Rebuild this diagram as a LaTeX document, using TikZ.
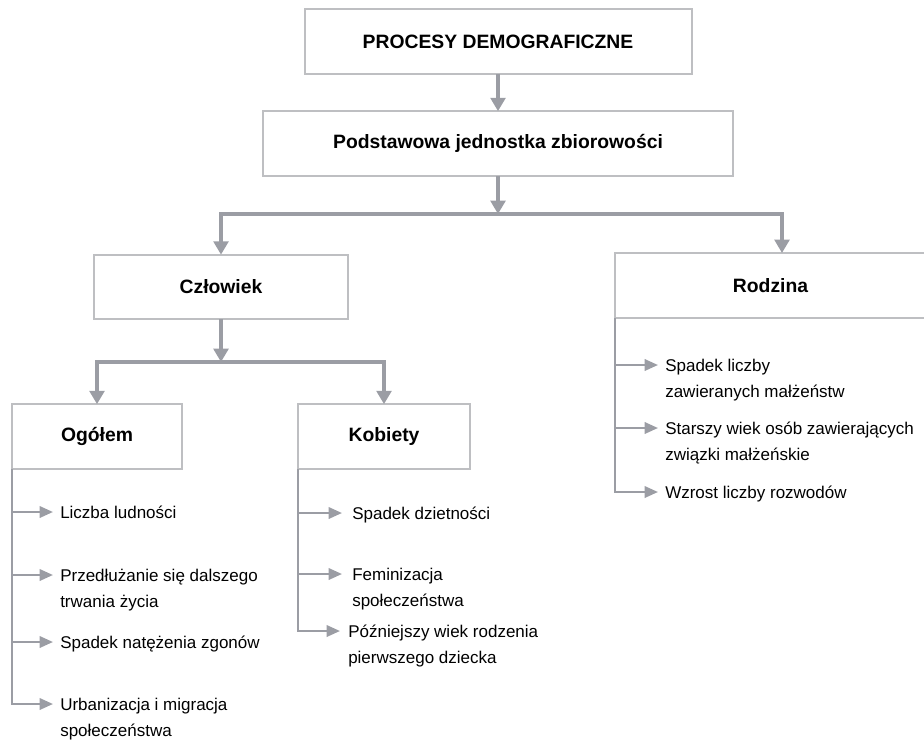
\documentclass[tikz,border=0pt]{standalone}
\usepackage{fontspec}
\setmainfont{Liberation Sans}
\usetikzlibrary{arrows.meta}
\definecolor{linegray}{RGB}{155,157,164}
\definecolor{boxgray}{RGB}{190,191,194}
\begin{document}
\begin{tikzpicture}[x=0.75pt,y=-0.75pt,>={Triangle[length=10pt,width=11pt]},
    box/.style={draw=boxgray,line width=1.5pt,outer sep=0pt,inner sep=0pt,minimum width=#1*0.75pt,minimum height=48.5pt,font=\bfseries\fontsize{14.5}{17}\selectfont},
    item/.style={anchor=north west,inner sep=0pt,align=left,font=\fontsize{12.75}{19.5}\selectfont},
    conn/.style={linegray,line width=2.6pt},
    leaf/.style={linegray,line width=1.8pt,-{Triangle[length=10pt,width=8.5pt]}}]
        \useasboundingbox (0,0) rectangle (924,740);

        \node[box=387] (proc) at (498,41.5) {PROCESY DEMOGRAFICZNE};
        \node[box=470] (podst) at (498,143.5) {Podstawowa jednostka zbiorowości};
        \node[box=254] (czl) at (221,287) {Człowiek};
        \node[box=311] (rodz) at (770.5,285.5) {Rodzina};
        \node[box=170] (ogol) at (97,436.5) {Ogółem};
        \node[box=172] (kob) at (384,436.5) {Kobiety};

        \coordinate (j1) at (498,214);
        \coordinate (rodzin) at (782,253);
        \coordinate (j2) at (221,362);

        \draw[conn,->] (proc) -- (podst);
        \draw[conn,->] (podst) -- (j1);
        \draw[conn,->] (j1) -| (czl.north);
        \draw[conn,->] (j1) -| (rodzin);
        \draw[conn,->] (czl) -- (j2);
        \draw[conn,->] (j2) -| (ogol.north);
        \draw[conn,->] (j2) -| (kob.north);

        \node[item] (o1) at (60,500) {\strut Liczba ludności};
        \node[item] (o2) at (60,563) {\strut Przedłużanie się dalszego\\trwania życia};
        \node[item] (o3) at (60,630) {\strut Spadek natężenia zgonów};
        \node[item] (o4) at (60,692) {\strut Urbanizacja i migracja\\społeczeństwa};
        \foreach \n in {o1,o2,o3,o4}
            \draw[leaf] (ogol.south west) |- ([shift={(-7,12)}]\n.north west);

        \node[item] (k1) at (352,501) {\strut Spadek dzietności};
        \node[item] (k2) at (352,562) {\strut Feminizacja\\społeczeństwa};
        \node[item] (k3) at (348,619) {\strut Późniejszy wiek rodzenia\\pierwszego dziecka};
        \draw[leaf] (kob.south west) |- ([shift={(-10,12)}]k1.north west);
        \draw[leaf] (kob.south west) |- ([shift={(-10,12)}]k2.north west);
        \draw[leaf] (kob.south west) |- ([shift={(-8,12)}]k3.north west);

        \node[item] (r1) at (665,353) {\strut Spadek liczby\\zawieranych małżeństw};
        \node[item] (r2) at (665,416) {\strut Starszy wiek osób zawierających\\związki małżeńskie};
        \node[item] (r3) at (665,480) {\strut Wzrost liczby rozwodów};
        \foreach \n in {r1,r2,r3}
            \draw[leaf] (rodz.south west) |- ([shift={(-7,12)}]\n.north west);
\end{tikzpicture}
\end{document}
